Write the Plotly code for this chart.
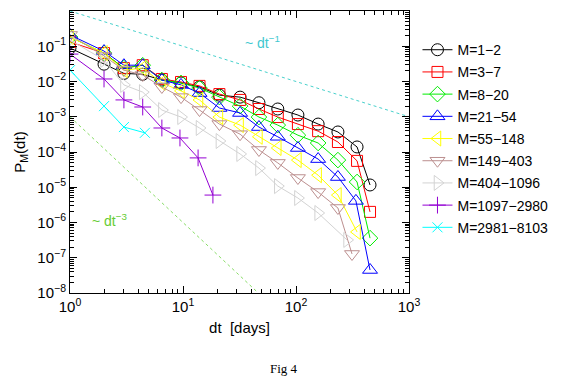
import plotly.graph_objects as go

# ---- data ----
dt_bins = [1, 2, 3, 4.4, 6.5, 9.6, 14, 21, 32, 47, 69, 104, 157, 235, 347, 452]

p_1_2 = [0.089, 0.031, 0.017, 0.016, 0.011, 0.0091, 0.0070, 0.0041, 0.0036, 0.0025,
         0.00166, 0.00112, 0.00062, 0.00037, 0.000139, 1.16e-5]
p_3_7 = [0.132, 0.064, 0.024, 0.029, 0.0118, 0.0097, 0.0075, 0.0044, 0.0030, 0.00166,
         0.00098, 0.00062, 0.00039, 0.000192, 5.6e-5, 2.0e-6]
p_8_20 = [0.183, 0.064, 0.024, 0.029, 0.011, 0.0091, 0.0065, 0.0036, 0.0020, 0.00098,
          0.00058, 0.00030, 0.00018, 5.9e-5, 1.41e-5, 3.6e-7]
dt_21_54 = [1, 2, 3, 4.4, 6.5, 9.6, 14, 21, 32, 47, 69, 104, 157, 235, 339, 452]
p_21_54 = [0.209, 0.073, 0.029, 0.029, 0.011, 0.0080, 0.0047, 0.00177, 0.00128, 0.00051,
           0.00027, 0.00013, 6.3e-5, 1.95e-5, 4.1e-6, 4.5e-8]
dt_55_148 = [1, 2, 3, 4.4, 6.5, 9.6, 14, 21, 32, 47, 69, 104, 157, 235, 347]
p_55_148 = [0.183, 0.064, 0.021, 0.024, 0.0091, 0.0054, 0.0030, 0.00098, 0.00058, 0.00027,
            0.00013, 5.9e-5, 2.2e-5, 6.0e-6, 5.4e-7]
dt_149_403 = [1, 2, 3, 4.4, 6.5, 9.6, 14, 21, 32, 47, 69, 104, 157, 235, 313]
p_149_403 = [0.209, 0.053, 0.021, 0.0153, 0.0070, 0.0036, 0.00155, 0.00062, 0.00032, 0.000114,
             4.9e-5, 1.83e-5, 7.3e-6, 2.58e-6, 1.28e-7]
dt_404_1096 = [1, 2, 3, 4.4, 6.5, 9.6, 14, 21, 32, 47, 69, 104, 157, 283]
p_404_1096 = [0.150, 0.041, 0.0080, 0.0050, 0.00155, 0.00098, 0.00048, 0.000205, 8.8e-5,
              3.5e-5, 1.08e-5, 4.95e-6, 1.86e-6, 3.2e-7]
dt_1097_2980 = [1, 2, 3, 4.4, 6.5, 9.4, 13.6, 18.4]
p_1097_2980 = [0.060, 0.0118, 0.0030, 0.00189, 0.00048, 0.00025, 6.8e-5, 6.0e-6]
dt_2981_8103 = [1, 2, 3, 4.6]
p_2981_8103 = [0.021, 0.0020, 0.00051, 0.00035]

series_names = ["M=1\u22122", "M=3\u22127", "M=8\u221220", "M=21\u221254", "M=55\u2212148",
                "M=149\u2212403", "M=404\u22121096", "M=1097\u22122980", "M=2981\u22128103"]

ref_dt = [1, 1000]
ref_slope1 = [1.0, 1e-3]          # ~ dt^-1
ref_dt3 = [1, 46.4]
ref_slope3 = [1e-3, 1e-8]         # ~ dt^-3

x_tickvals = [1, 10, 100, 1000]
x_ticktext = ["10<sup>0</sup>", "10<sup>1</sup>", "10<sup>2</sup>", "10<sup>3</sup>"]
y_tickvals = [1, 1e-1, 1e-2, 1e-3, 1e-4, 1e-5, 1e-6, 1e-7, 1e-8]
y_ticktext = ["10<sup>0</sup>"] + ["10<sup>\u2212%d</sup>" % k for k in range(1, 9)]

# ---- styles ----
styles = [
    ("black", "circle-open", 12),
    ("#ff0000", "square-open", 11),
    ("#00ee00", "diamond-open", 12),
    ("#0000ff", "triangle-up-open", 13),
    ("#ffff00", "triangle-left-open", 13),
    ("#bc8f8f", "triangle-down-open", 13),
    ("#d3d3d3", "triangle-right-open", 13),
    ("#9400d3", "cross-thin-open", 12),
    ("#00ffff", "x-thin-open", 10),
]
xs = [dt_bins, dt_bins, dt_bins, dt_21_54, dt_55_148, dt_149_403, dt_404_1096,
      dt_1097_2980, dt_2981_8103]
ys = [p_1_2, p_3_7, p_8_20, p_21_54, p_55_148, p_149_403, p_404_1096,
      p_1097_2980, p_2981_8103]

fig = go.Figure()

fig.add_trace(go.Scatter(x=ref_dt, y=ref_slope1, mode="lines",
                         line=dict(color="#48d1cc", width=1, dash="dot"),
                         showlegend=False, hoverinfo="skip"))
fig.add_trace(go.Scatter(x=ref_dt3, y=ref_slope3, mode="lines",
                         line=dict(color="#88dd66", width=1, dash="dot"),
                         showlegend=False, hoverinfo="skip"))

for name, x, y, (col, sym, sz) in zip(series_names, xs, ys, styles):
    fig.add_trace(go.Scatter(
        x=x, y=y, mode="lines+markers", name=name, legendgroup=name,
        line=dict(color=col, width=1),
        marker=dict(symbol=sym, size=sz, color=col, line=dict(color=col, width=1)),
    ))

axis_common = dict(
    type="log", showline=True, linecolor="black", linewidth=1, mirror="allticks",
    ticks="inside", ticklen=7, tickcolor="black", showgrid=False, zeroline=False,
    automargin=False,
    tickfont=dict(family="Liberation Sans, Arial, sans-serif", size=15, color="black"),
)

minor_x = [m * 10 ** e for e in range(0, 3) for m in range(2, 10)]
minor_y = [m * 10.0 ** e for e in range(-8, 0) for m in range(2, 10)]

fig.update_xaxes(
    **axis_common, range=[0, 3], tickmode="array", tickvals=x_tickvals, ticktext=x_ticktext,
    minor=dict(tickmode="array", tickvals=minor_x, ticks="inside", ticklen=4,
               tickcolor="black", showgrid=False),
    title=dict(text="dt  [days]", standoff=8,
               font=dict(family="Liberation Sans, Arial, sans-serif", size=15, color="black")),
)
fig.update_yaxes(
    **axis_common, range=[-8, 0], tickmode="array", tickvals=y_tickvals, ticktext=y_ticktext,
    minor=dict(tickmode="array", tickvals=minor_y, ticks="inside", ticklen=4,
               tickcolor="black", showgrid=False),
    title=dict(text="P<sub>M</sub>(dt)", standoff=8,
               font=dict(family="Liberation Sans, Arial, sans-serif", size=15, color="black")),
)

fig.add_annotation(x=1.70, y=-0.88, xref="x", yref="y", text="~ dt<sup>\u22121</sup>",
                   showarrow=False, font=dict(family="Liberation Sans, Arial, sans-serif",
                                              size=14, color="#40c8d0"))
fig.add_annotation(x=0.35, y=-5.93, xref="x", yref="y", text="~ dt<sup>\u22123</sup>",
                   showarrow=False, font=dict(family="Liberation Sans, Arial, sans-serif",
                                              size=14, color="#66cc33"))
fig.add_annotation(x=(284 - 70) / 339, y=-(368 - 293) / 282, xref="paper", yref="paper",
                   yanchor="middle", text="Fig 4", showarrow=False,
                   font=dict(family="Liberation Serif, DejaVu Serif, serif", size=13, color="black"))

fig.update_layout(
    width=567, height=376,
    margin=dict(l=70, r=158, t=11, b=83, autoexpand=False),
    paper_bgcolor="white", plot_bgcolor="white",
    legend=dict(x=1.025, y=0.918, xanchor="left", yanchor="top", tracegroupgap=1,
                bgcolor="rgba(0,0,0,0)",
                font=dict(family="Liberation Sans, Arial, sans-serif", size=14, color="black")),
)

fig.write_html("out.html", config={"displayModeBar": False},
               post_script="document.body.style.margin='0px';document.body.style.padding='0px';")
